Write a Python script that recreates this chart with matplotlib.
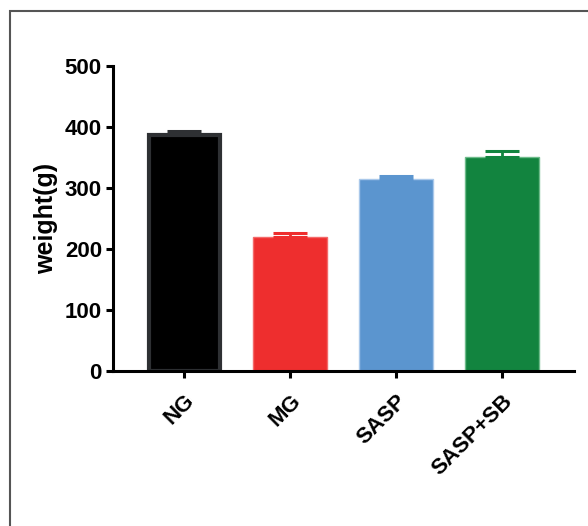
import numpy as np
import matplotlib.pyplot as plt
from matplotlib import patches

plt.rcParams['font.family'] = ['Liberation Sans', 'DejaVu Sans']
plt.rcParams['font.weight'] = 'bold'

# данные
groups = ["NG", "MG", "SASP", "SASP+SB"]
weights = [387, 219, 314, 351]
errors = [6, 7, 5, 9]
bar_colors = ["#000000", "#EE2E2E", "#5B95CF", "#12843F"]
edge_colors = ["#2E3033", "#F46A6A", "#A9C8EA", "#6DBB8A"]
err_colors = ["#2E3033", "#EE2E2E", "#5B95CF", "#12843F"]

fig = plt.figure(figsize=(5.88, 5.26), dpi=100)
ax = fig.add_axes([113 / 588, 1 - 371 / 526, (574 - 113) / 588, (371 - 66) / 526])

x = np.arange(len(groups))
edge_w = [3.0, 1.0, 1.0, 1.0]
for i in range(len(groups)):
    w = 0.67 if i == 0 else 0.70
    ax.bar(x[i], weights[i], width=w, color=bar_colors[i],
           edgecolor=edge_colors[i], linewidth=edge_w[i], zorder=2)
    ax.errorbar(x[i], weights[i], yerr=[[0], [errors[i]]], fmt='none',
                ecolor=err_colors[i], elinewidth=2, capsize=12, capthick=2.2, zorder=3)

ax.set_xlim(-0.67, 3.68)
ax.set_ylim(0, 500)
ax.set_yticks([0, 100, 200, 300, 400, 500])
ax.set_xticks(x)
ax.set_xticklabels(groups, rotation=45, ha='right', rotation_mode='anchor',
                   fontsize=16, fontweight='bold')
ax.tick_params(axis='y', labelsize=16, width=2.2, length=5, pad=3)
ax.tick_params(axis='x', width=2.2, length=5, pad=9)
for lbl in ax.get_yticklabels():
    lbl.set_fontweight('bold')
ax.set_ylabel("weight(g)", fontsize=18, fontweight='bold', labelpad=5)

ax.spines['top'].set_visible(False)
ax.spines['right'].set_visible(False)
ax.spines['left'].set_linewidth(2.2)
ax.spines['bottom'].set_linewidth(2.2)

# рамка вокруг рисунка
frame = patches.Rectangle((10 / 588, -0.1), 1.2, 1.1 - 11 / 526,
                          transform=fig.transFigure, fill=False,
                          edgecolor="#555555", linewidth=1.5)
fig.patches.append(frame)

fig.savefig("out.png", dpi=100)
